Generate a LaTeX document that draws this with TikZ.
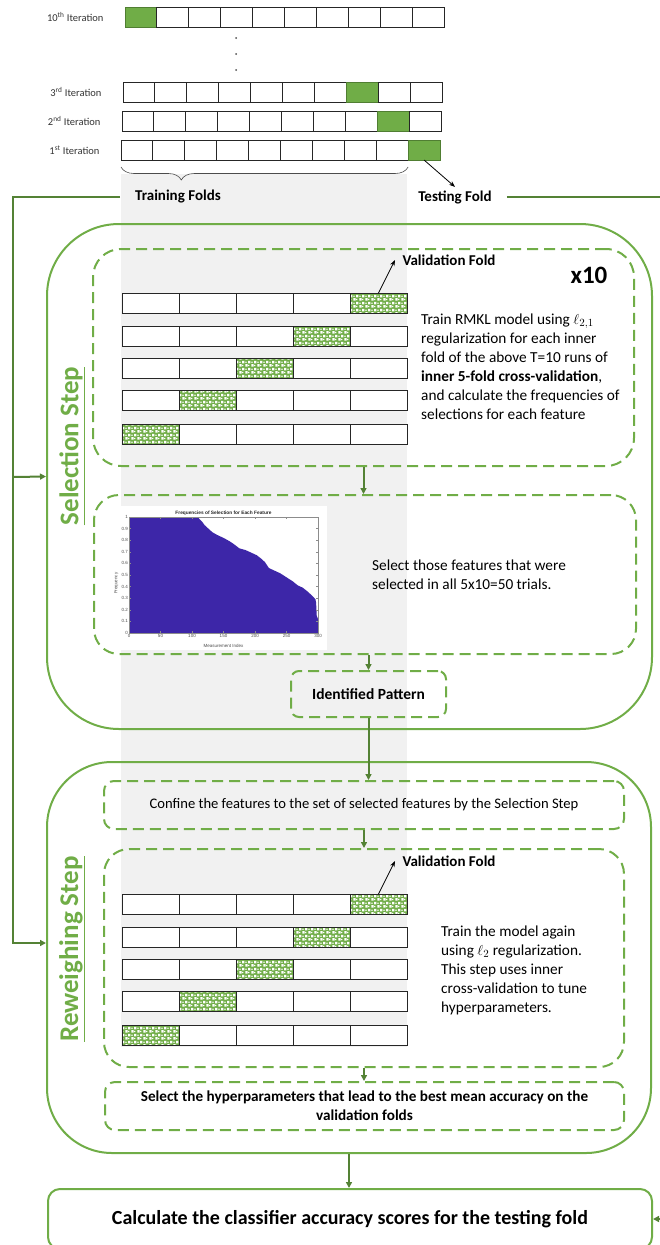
\documentclass[tikz,border=0pt]{standalone}
\usepackage{fontspec}
\setmainfont{Carlito}
\newfontfamily\plotfont{Liberation Sans}
\usetikzlibrary{positioning,arrows.meta,decorations.pathreplacing,patterns,shadows}
\definecolor{boxgreen}{HTML}{70AD47}
\definecolor{linegreen}{HTML}{548235}
\definecolor{folddark}{HTML}{507E32}
\definecolor{bggray}{HTML}{F1F1F1}
\definecolor{plotblue}{HTML}{3D26A8}
\pgfdeclarepatternformonly{valdots}{\pgfpointorigin}{\pgfpoint{5.7pt}{6.6pt}}{\pgfpoint{5.7pt}{6.6pt}}{%
  \pgfpathrectangle{\pgfpoint{0.5pt}{0.5pt}}{\pgfpoint{2.3pt}{2.6pt}}%
  \pgfpathrectangle{\pgfpoint{3.35pt}{3.8pt}}{\pgfpoint{2.3pt}{2.6pt}}%
  \pgfpathrectangle{\pgfpoint{3.35pt}{0.9pt}}{\pgfpoint{1.2pt}{1.4pt}}%
  \pgfpathrectangle{\pgfpoint{0.5pt}{4.2pt}}{\pgfpoint{1.2pt}{1.4pt}}%
  \pgfusepath{fill}}

\begin{document}
\begin{tikzpicture}[x=1pt, y=-1pt,
    cell/.style={draw=black!85, fill=white, line width=0.9pt, minimum width=31.9pt,
      minimum height=20pt, inner sep=0pt, outer sep=0pt,
      drop shadow={shadow xshift=1.2pt, shadow yshift=-1.2pt, opacity=0.3}},
    testcell/.style={cell, fill=boxgreen, draw=folddark},
    fold/.style={cell, minimum width=57pt},
    valcell/.style={fold, preaction={fill=boxgreen}, pattern=valdots, pattern color=white},
    iterlbl/.style={font=\fontsize{10.5}{12}\selectfont, text=black!80},
    foldlbl/.style={font=\bfseries\fontsize{15}{18}\selectfont, inner xsep=15pt},
    vallbl/.style={font=\bfseries\fontsize{15}{18}\selectfont},
    bodytext/.style={font=\fontsize{15.3}{19}\selectfont, align=left, inner sep=0pt},
    steptitle/.style={rotate=90, text=boxgreen, font=\bfseries\fontsize{27}{32}\selectfont},
    solidbox/.style={draw=boxgreen, line width=2pt, inner sep=0pt},
    dashbox/.style={solidbox, dash pattern=on 11pt off 6pt},
    flow/.style={draw=linegreen, line width=2pt, -{Triangle[length=6pt,width=6pt]}},
    pointer/.style={draw=black, line width=0.8pt, -{Stealth[length=6pt,width=4.5pt]}},
    plotlbl/.style={font=\plotfont\fontsize{4.5}{5}\selectfont, text=black!70, inner sep=1pt}]
  \path[use as bounding box] (0,0) rectangle (660,1245);
  \clip (0,0) rectangle (660,1245);

  % shaded column of the training folds
  \fill[bggray] (121,174) rectangle (407,1047);

  % outer 10-fold iterations
  \foreach \r/\ord/\x/\y/\g in {10/th/125/17/1, 3/rd/123/92/8, 2/nd/122/121/9, 1/st/121/150/10}{
    \foreach \i in {1,...,10}{
      \ifnum\i=\g\relax \def\st{testcell}\else\def\st{cell}\fi
      \node[\st] (it\r-\i) at ({\x+15.95+31.9*(\i-1)},\y) {};
    }
    \node[iterlbl, left=18pt of it\r-1] (lbl\r) {\r\textsuperscript{\ord} Iteration};
  }
  \foreach \d in {38,54,70} \fill[black!70] (236,\d) circle (1pt);

  \draw[decorate, decoration={brace, mirror, amplitude=13pt, aspect=0.21}, line width=0.6pt, black!70]
    ([yshift=-7pt]it1-1.south west) -- ([yshift=-7pt]it1-9.south east);
  \node[foldlbl] (trainlbl) at (178,197) {Training Folds};
  \node[foldlbl] (testlbl) at (455,197) {Testing Fold};
  \draw[pointer] (it1-10.south) -- (testlbl.north);

  % selection step
  \node[solidbox, rounded corners=72pt, minimum width=605pt, minimum height=505pt] (sel) at (349.5,476.5) {};
  \node[dashbox, rounded corners=28pt, minimum width=541pt, minimum height=217pt] (valbox1) at (363.5,357.5) {};
  \node[dashbox, rounded corners=25pt, minimum width=542pt, minimum height=159pt] (plotbox) at (365,574.5) {};
  \node[dashbox, rounded corners=8pt, minimum width=155pt, minimum height=46pt,
    font=\bfseries\fontsize{15.5}{18}\selectfont] (idpat) at (368.5,694) {Identified Pattern};
  \node[steptitle] (seltitle) at (72,446) {\underline{Selection Step}};

  % reweighing step
  \node[solidbox, rounded corners=65pt, minimum width=604pt, minimum height=391pt] (rew) at (349,957.5) {};
  \node[dashbox, rounded corners=10pt, minimum width=520pt, minimum height=48pt,
    font=\fontsize{14.6}{18}\selectfont] (confine) at (364,805)
    {Confine the features to the set of selected features by the Selection Step};
  \node[dashbox, rounded corners=25pt, minimum width=520pt, minimum height=218pt] (valbox2) at (364,958) {};
  \node[dashbox, rounded corners=10pt, minimum width=519pt, minimum height=48pt, align=center,
    font=\bfseries\fontsize{15.2}{19}\selectfont] (hyper) at (364.5,1106)
    {Select the hyperparameters that lead to the best mean accuracy on the\\validation folds};
  \node[steptitle] (rewtitle) at (72,949) {\underline{Reweighing Step}};

  \node[solidbox, rounded corners=12pt, minimum width=604pt, minimum height=60pt,
    font=\bfseries\fontsize{20}{24}\selectfont] (final) at (350,1219)
    {Calculate the classifier accuracy scores for the testing fold};

  % inner 5-fold cross-validation
  \foreach \grp/\yoff in {a/0, b/601}{
    \foreach \k/\y in {1/303, 2/336, 3/368, 4/400, 5/434}{
      \pgfmathtruncatemacro\h{6-\k}
      \foreach \i in {1,...,5}{
        \ifnum\i=\h\relax \def\st{valcell}\else\def\st{fold}\fi
        \node[\st] (\grp\k-\i) at ({150.5+57*(\i-1)},{\y+\yoff}) {};
      }
    }
  }
  \node[vallbl] (val1) at (449,260) {Validation Fold};
  \node[vallbl] (val2) at (449,861) {Validation Fold};
  \draw[pointer] (a1-5.north) -- ([xshift=-4pt]val1.west);
  \draw[pointer] (b1-5.north) -- ([xshift=-4pt]val2.west);
  \node[font=\bfseries\fontsize{25}{30}\selectfont] (times) at (589,275) {x10};

  \node[bodytext, anchor=west] (seltext) at (421,367)
    {Train RMKL model using $\ell_{2,1}$\\regularization for each inner\\fold of the above T=10 runs of\\
     \textbf{inner 5-fold cross-validation},\\and calculate the frequencies of\\selections for each feature};
  \node[bodytext, anchor=west] (picktext) at (372,575)
    {Select those features that were\\selected in all 5x10=50 trials.};
  \node[bodytext, anchor=west] (rewtext) at (441,970)
    {Train the model again\\using $\ell_2$ regularization.\\This step uses inner\\cross-validation to tune\\hyperparameters.};

  % frequency chart
  \node[fill=white, minimum width=206pt, minimum height=144pt, inner sep=0pt] (chart) at (224,578) {};
  \begin{scope}[shift={(129,633)}, x=0.63pt, y=116pt]
    \fill[plotblue] (0,0) -- (0,1) -- (110,1) -- (112,0.98) -- (116,0.96) -- (120,0.93) -- (126,0.9)
      -- (132,0.87) -- (140,0.845) -- (150,0.82) -- (160,0.79) -- (168,0.76) -- (175,0.73)
      -- (185,0.715) -- (195,0.69) -- (203,0.67) -- (210,0.64) -- (216,0.61) -- (222,0.56)
      -- (230,0.54) -- (240,0.515) -- (250,0.48) -- (260,0.445) -- (268,0.41) -- (276,0.39)
      -- (284,0.355) -- (292,0.315) -- (296,0.29) -- (297,0.26) -- (298,0.15) -- (300,0.12)
      -- (300,0) -- cycle;
    \draw[black!45, line width=0.3pt] (0,0) rectangle (300,1);
    \foreach \t in {0,50,...,300}{
      \draw[black!45, line width=0.3pt] (\t,0) -- (\t,0.015) (\t,1) -- (\t,0.985);
      \node[plotlbl, below] (xt\t) at (\t,0) {\t};
    }
    \foreach \f [count=\n] in {0,0.1,0.2,0.3,0.4,0.5,0.6,0.7,0.8,0.9,1}{
      \draw[black!45, line width=0.3pt] (0,\f) -- (2.5,\f) (300,\f) -- (297.5,\f);
      \node[plotlbl, left] (yt\n) at (0,\f) {\f};
    }
    \node[plotlbl, font=\plotfont\bfseries\fontsize{4.8}{5}\selectfont, text=black!85, above] (ptitle) at (150,1) {Frequencies of Selection for Each Feature};
    \node[plotlbl] (pxlbl) at (150,-0.115) {Measurement Index};
    \node[plotlbl, rotate=90] (pylbl) at (-20,0.43) {Frequency};
  \end{scope}

  % connectors
  \coordinate (lcorner) at (13,197);
  \coordinate (selin) at (13,477);
  \coordinate (rewin) at (13,943);
  \coordinate (redge) at (662,197);
  \draw[flow] (trainlbl.west) -- (lcorner) -- (rewin) -- (rewin -| rew.west);
  \draw[flow] (selin) -- (sel.west);
  \draw[flow] (testlbl.east) -- (redge) |- (final.east);
  \draw[flow] (valbox1.south) -- (valbox1.south |- plotbox.north);
  \draw[flow] (idpat.north |- plotbox.south) -- (idpat.north);
  \draw[flow] (idpat.south) -- (idpat.south |- confine.north);
  \draw[flow] (confine.south) -- (confine.south |- valbox2.north);
  \draw[flow] (valbox2.south) -- (valbox2.south |- hyper.north);
  \draw[flow] (rew.south) -- (rew.south |- final.north);
\end{tikzpicture}
\end{document}
